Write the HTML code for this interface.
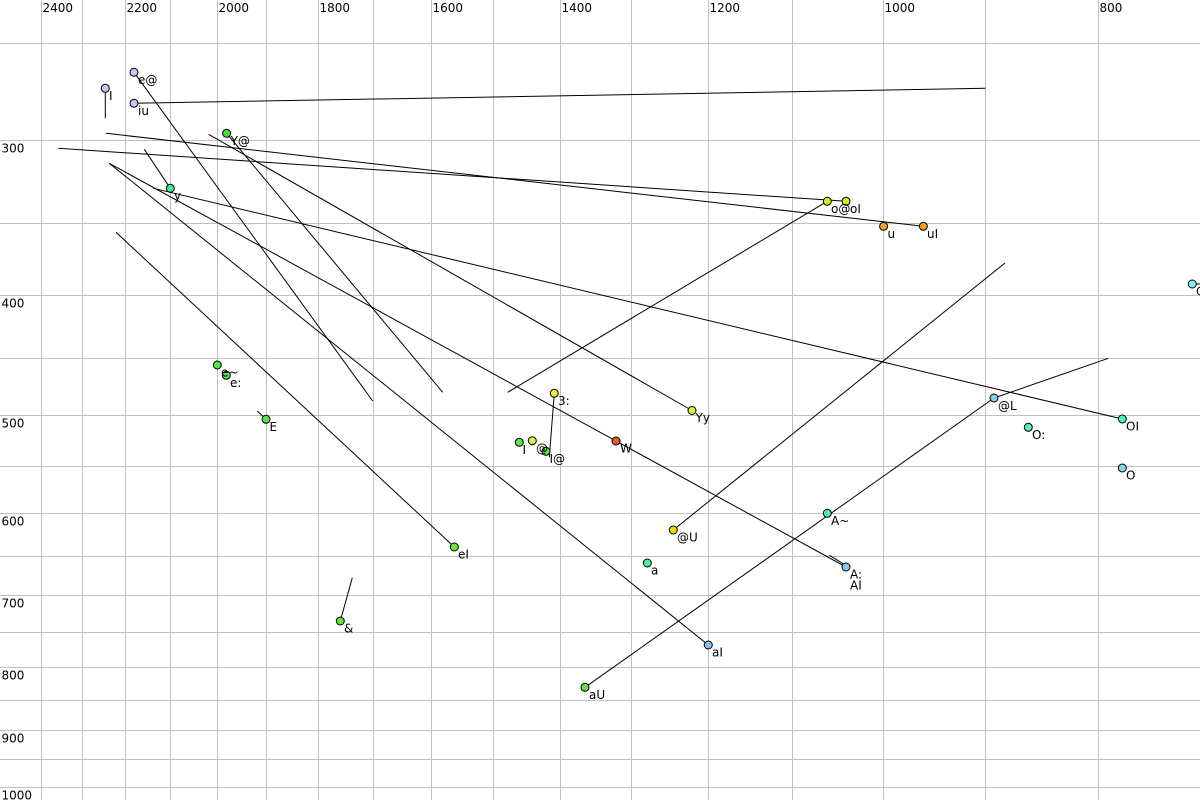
<!DOCTYPE html>
<html><head><meta charset="utf-8"><style>
html,body{margin:0;padding:0;background:#fff;}
svg{display:block;}
text{font-family:"DejaVu Sans","Liberation Sans",sans-serif;font-size:12px;fill:#000;}
</style></head><body>
<svg width="1200" height="800" viewBox="0 0 1200 800" xmlns="http://www.w3.org/2000/svg">
<rect width="1200" height="800" fill="#fff"/>
<g stroke="#c0c0c0" stroke-width="1" shape-rendering="crispEdges">
<line x1="41.5" y1="0" x2="41.5" y2="800"/>
<line x1="82.5" y1="0" x2="82.5" y2="800"/>
<line x1="125.5" y1="0" x2="125.5" y2="800"/>
<line x1="170.5" y1="0" x2="170.5" y2="800"/>
<line x1="217.5" y1="0" x2="217.5" y2="800"/>
<line x1="266.5" y1="0" x2="266.5" y2="800"/>
<line x1="318.5" y1="0" x2="318.5" y2="800"/>
<line x1="373.5" y1="0" x2="373.5" y2="800"/>
<line x1="431.5" y1="0" x2="431.5" y2="800"/>
<line x1="493.5" y1="0" x2="493.5" y2="800"/>
<line x1="560.5" y1="0" x2="560.5" y2="800"/>
<line x1="631.5" y1="0" x2="631.5" y2="800"/>
<line x1="708.5" y1="0" x2="708.5" y2="800"/>
<line x1="792.5" y1="0" x2="792.5" y2="800"/>
<line x1="883.5" y1="0" x2="883.5" y2="800"/>
<line x1="985.5" y1="0" x2="985.5" y2="800"/>
<line x1="1098.5" y1="0" x2="1098.5" y2="800"/>
<line x1="0" y1="43.5" x2="1200" y2="43.5"/>
<line x1="0" y1="140.5" x2="1200" y2="140.5"/>
<line x1="0" y1="223.5" x2="1200" y2="223.5"/>
<line x1="0" y1="295.5" x2="1200" y2="295.5"/>
<line x1="0" y1="358.5" x2="1200" y2="358.5"/>
<line x1="0" y1="415.5" x2="1200" y2="415.5"/>
<line x1="0" y1="466.5" x2="1200" y2="466.5"/>
<line x1="0" y1="513.5" x2="1200" y2="513.5"/>
<line x1="0" y1="556.5" x2="1200" y2="556.5"/>
<line x1="0" y1="595.5" x2="1200" y2="595.5"/>
<line x1="0" y1="632.5" x2="1200" y2="632.5"/>
<line x1="0" y1="667.5" x2="1200" y2="667.5"/>
<line x1="0" y1="700.5" x2="1200" y2="700.5"/>
<line x1="0" y1="730.5" x2="1200" y2="730.5"/>
<line x1="0" y1="759.5" x2="1200" y2="759.5"/>
<line x1="0" y1="787.5" x2="1200" y2="787.5"/>
</g>
<g>
<text x="42.5" y="12">2400</text>
<text x="126.5" y="12">2200</text>
<text x="218.5" y="12">2000</text>
<text x="319.5" y="12">1800</text>
<text x="432.5" y="12">1600</text>
<text x="561.5" y="12">1400</text>
<text x="709.5" y="12">1200</text>
<text x="884.5" y="12">1000</text>
<text x="1099.5" y="12">800</text>
<text x="1.5" y="152.5">300</text>
<text x="1.5" y="307.5">400</text>
<text x="1.5" y="427.5">500</text>
<text x="1.5" y="525.5">600</text>
<text x="1.5" y="607.5">700</text>
<text x="1.5" y="679.5">800</text>
<text x="1.5" y="742.5">900</text>
<text x="1.5" y="799.5">1000</text>
</g>
<g stroke="#000" stroke-width="1" fill="none">
<line x1="105.3" y1="88" x2="105.3" y2="118.3"/>
<line x1="134" y1="72.3" x2="372.7" y2="401"/>
<line x1="134" y1="103.3" x2="985.4" y2="88.3"/>
<line x1="208.6" y1="134.3" x2="692" y2="410.5"/>
<line x1="226.6" y1="133.3" x2="442.7" y2="392.3"/>
<line x1="106" y1="133.3" x2="923.4" y2="226.3"/>
<line x1="58.2" y1="148.3" x2="846" y2="201.3"/>
<line x1="144.3" y1="149.3" x2="170.3" y2="188.3"/>
<line x1="109.3" y1="163.3" x2="708.3" y2="645"/>
<line x1="109.3" y1="163.3" x2="846" y2="567"/>
<line x1="829.3" y1="555.2" x2="846" y2="565.5"/>
<line x1="153.3" y1="188.3" x2="1122.3" y2="419"/>
<line x1="116" y1="232.3" x2="454.3" y2="547"/>
<line x1="554.3" y1="393.3" x2="549.3" y2="457.3"/>
<line x1="507.7" y1="392.3" x2="827.3" y2="201.3"/>
<line x1="673.3" y1="530" x2="1005" y2="263"/>
<line x1="585" y1="687.3" x2="994" y2="398"/>
<line x1="994" y1="398" x2="1108.3" y2="358.3"/>
<line x1="340.3" y1="621" x2="352.3" y2="577.7"/>
<line x1="257.3" y1="411" x2="266" y2="419.3"/>
<line x1="1192.3" y1="284" x2="1200" y2="284"/>
</g>
<g stroke="#000" stroke-width="1">
<circle cx="105.3" cy="88.3" r="4" fill="#c8c4f4"/>
<circle cx="134" cy="72.3" r="4" fill="#c8c4f4"/>
<circle cx="134" cy="103.3" r="4" fill="#c8c4f4"/>
<circle cx="226.6" cy="133.3" r="4" fill="#44e044"/>
<circle cx="170.3" cy="188.3" r="4" fill="#44e88c"/>
<circle cx="827.3" cy="201.3" r="4" fill="#c8f020"/>
<circle cx="846" cy="201.3" r="4" fill="#c8f020"/>
<circle cx="883.6" cy="226.3" r="4" fill="#f0a020"/>
<circle cx="923.4" cy="226.3" r="4" fill="#f0a020"/>
<circle cx="217.3" cy="365" r="4" fill="#4ee84e"/>
<circle cx="226.3" cy="375.3" r="4" fill="#4ee84e"/>
<circle cx="266" cy="419.3" r="4" fill="#4ee84e"/>
<circle cx="454.3" cy="547" r="4" fill="#6ee83a"/>
<circle cx="340.3" cy="621" r="4" fill="#66e033"/>
<circle cx="554.3" cy="393.3" r="4" fill="#eef030"/>
<circle cx="519.3" cy="442.3" r="4" fill="#4fe84f"/>
<circle cx="532.3" cy="440.7" r="4" fill="#d8f040"/>
<circle cx="546" cy="451.3" r="4" fill="#60e040"/>
<circle cx="616" cy="441" r="4" fill="#e06020"/>
<circle cx="692" cy="410.5" r="4" fill="#d8f030"/>
<circle cx="673.3" cy="530" r="4" fill="#f0d800"/>
<circle cx="647.3" cy="563" r="4" fill="#50f0a0"/>
<circle cx="708.3" cy="645" r="4" fill="#88c0f0"/>
<circle cx="585" cy="687.3" r="4" fill="#66e040"/>
<circle cx="827.3" cy="513.3" r="4" fill="#50f0b0"/>
<circle cx="846" cy="567" r="4" fill="#88c8f0"/>
<circle cx="994" cy="398" r="4" fill="#88ccf0"/>
<circle cx="1028.3" cy="427.3" r="4" fill="#50f0c0"/>
<circle cx="1122.3" cy="419" r="4" fill="#50f0c0"/>
<circle cx="1122.3" cy="468" r="4" fill="#88d4f0"/>
<circle cx="1192.3" cy="284" r="4" fill="#80eeff"/>
</g>
<g>
<text x="109" y="100">I</text>
<text x="138" y="84">e@</text>
<text x="138" y="115">iu</text>
<text x="230.6" y="145">Y@</text>
<text x="174" y="200">y</text>
<text x="831" y="213">o@</text>
<text x="850" y="213">oI</text>
<text x="887.5" y="238">u</text>
<text x="927" y="238">uI</text>
<text x="221" y="376.5">e~</text>
<text x="230" y="387">e:</text>
<text x="269.5" y="431">E</text>
<text x="458" y="558.5">eI</text>
<text x="344" y="632.5">&amp;</text>
<text x="558" y="405">3:</text>
<text x="522.5" y="454">I</text>
<text x="536" y="452.5">@</text>
<text x="549.5" y="463">I@</text>
<text x="620" y="452.5">W</text>
<text x="695.5" y="422">Yy</text>
<text x="677" y="541.5">@U</text>
<text x="651" y="574.5">a</text>
<text x="712" y="656.5">aI</text>
<text x="589" y="699">aU</text>
<text x="831" y="525">A~</text>
<text x="850" y="578.5">A:</text>
<text x="850" y="589.5">AI</text>
<text x="998" y="410">@L</text>
<text x="1032" y="439">O:</text>
<text x="1126" y="430.5">OI</text>
<text x="1126" y="479.5">O</text>
<text x="1196" y="295.5">Q</text>
</g>
</svg>
</body></html>
